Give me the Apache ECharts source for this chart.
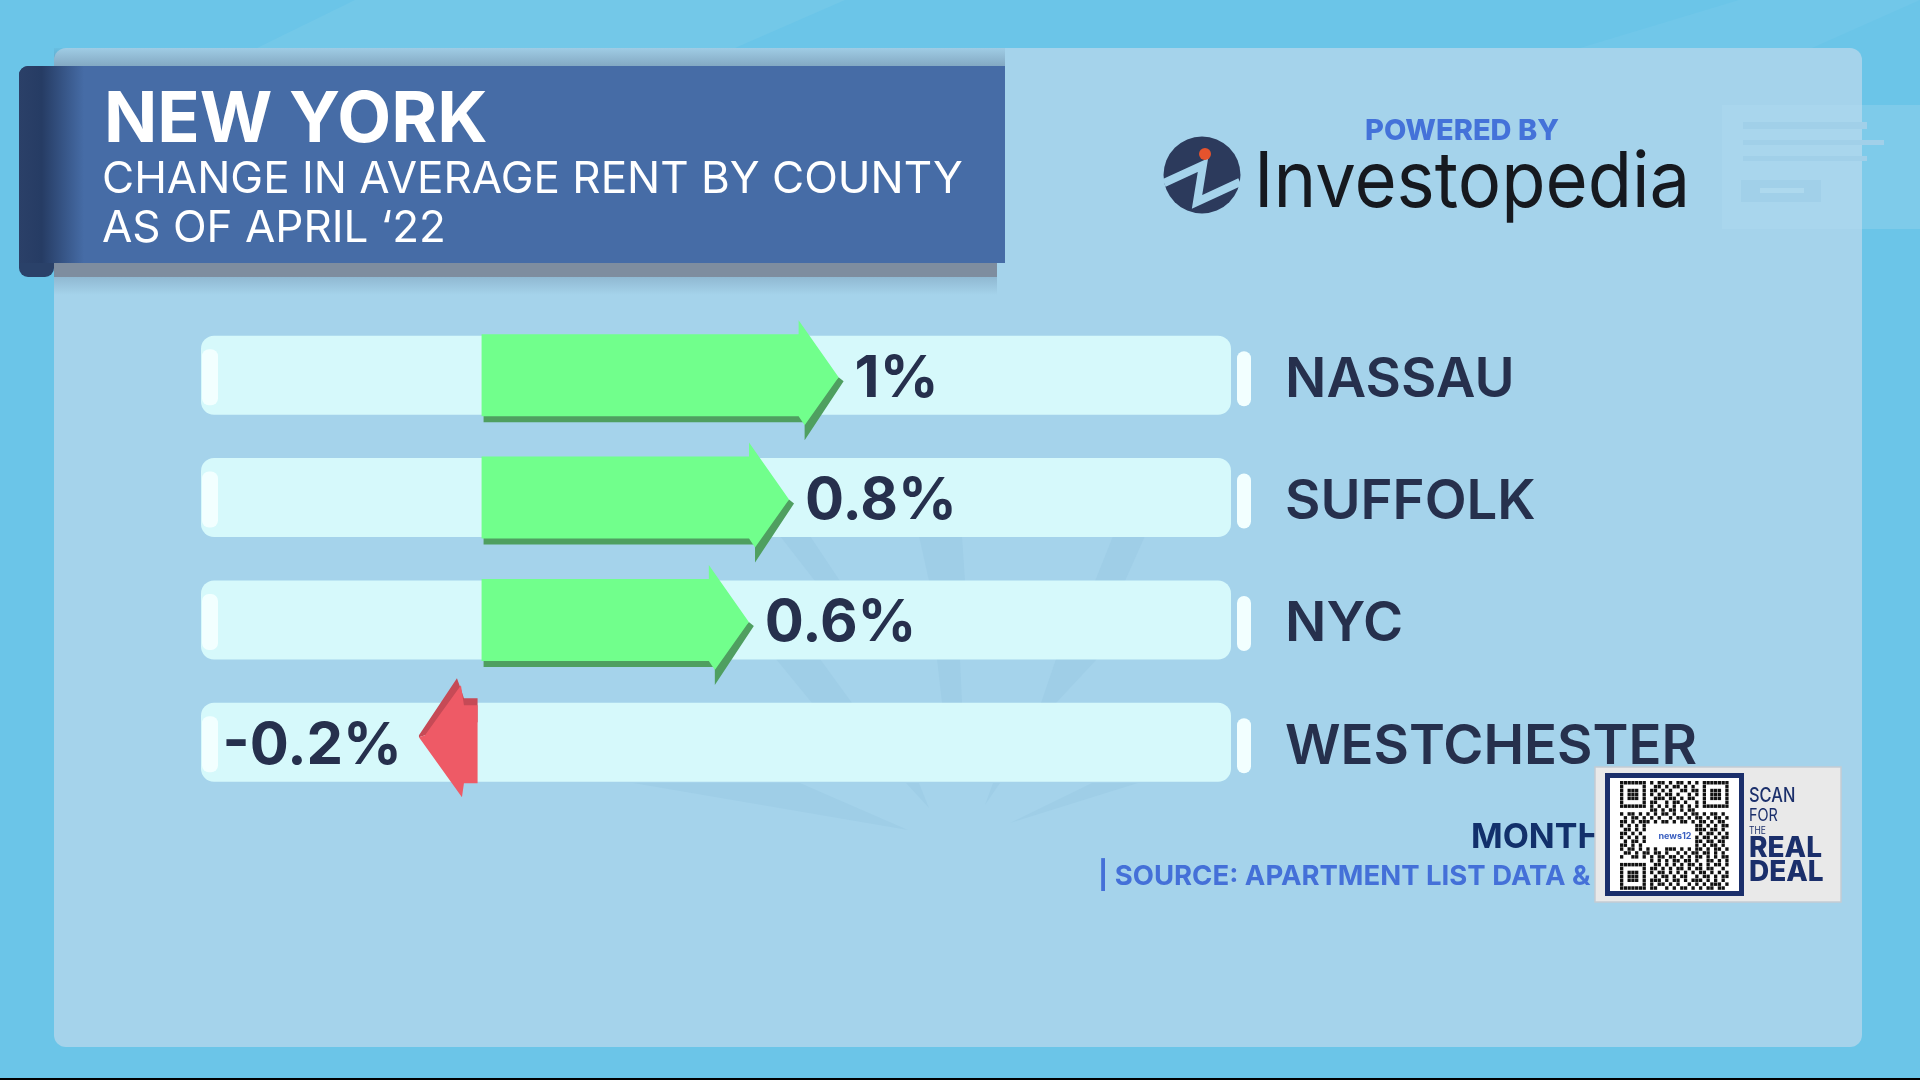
<!DOCTYPE html>
<html>
<head>
<meta charset="utf-8">
<style>html,body{margin:0;padding:0;background:#6bc5e8}#c{width:1920px;height:1080px}</style>
<script src="https://cdn.jsdelivr.net/npm/echarts@6/dist/echarts.min.js"></script>
</head>
<body>
<div id="c"></div>
<script>
// Chart content
const counties = ['NASSAU', 'SUFFOLK', 'NYC', 'WESTCHESTER'];
const changePct = [1, 0.8, 0.6, -0.2];
// The reference's arrows are not proportional to their labels. This is how far
// each arrow tip reaches on the axis as drawn; the labels use changePct.
const arrowExtent = [1, 0.863, 0.752, -0.173];
const titleMain = 'NEW YORK';
const titleLine1 = 'CHANGE IN AVERAGE RENT BY COUNTY';
const titleLine2 = 'AS OF APRIL ‘22';
const poweredBy = 'POWERED BY';
const brand = 'Investopedia';
const footerTop = 'MONTH';
const footerSource = '| SOURCE: APARTMENT LIST DATA &';

const FONT = 'Inter';
const INK = '#26304d';
const GREEN = '#71ff8c', GREEN_D = '#4f9f60';
const RED = '#ee5a66', RED_D = '#c64a56';
const TRACK = '#d6f9fb', PILL = '#f2ffff';
const PANEL = '#a5d3eb';

// Decorative QR pattern, approximating the look of the code in the picture
const qrPattern = [
'11111110101101011010101111111',
'10000010011010110101001000001',
'10111010110101001101101011101',
'10111010101011010010101011101',
'10111010011101101011001011101',
'10000010110010110100101000001',
'11111110101010101010101111111',
'00000000110101101011000000000',
'10110101010110100101101011010',
'01011010101001011010110101101',
'11010111010110101101011010110',
'10101010000000000000110101011',
'01101010000000000000111011010',
'11010100000000000000010110101',
'10101010000000000000101101011',
'01011010000000000000110110110',
'11010100000000000000101011010',
'10110101010011101010110101101',
'01101011011010010101101101010',
'10011010101101101010110101011',
'00000000101010110110100110101',
'11111110011010101011010101101',
'10000010110101011010110110010',
'10111010101101010101011010101',
'10111010010110101100101101011',
'10111010111010110101110101010',
'10000010101101010010101011101',
'11111110110010101101010110110'
];

function rect(x, y, w, h, fill, z, r) {
  return {type: 'rect', z: z, silent: true, shape: {x, y, width: w, height: h, r: r || 0}, style: {fill}};
}
function poly(points, fill, z) {
  return {type: 'polygon', z: z, silent: true, shape: {points}, style: {fill}};
}
function text(x, y, t, size, weight, fill, z, extra, scaleX) {
  const el = {type: 'text', z: z, silent: true, x, y, style: Object.assign({
    text: t, font: weight + ' ' + size + 'px ' + FONT, fill, textAlign: 'left', textVerticalAlign: 'middle'
  }, extra || {})};
  if (scaleX) el.scaleX = scaleX;
  return el;
}
function vgrad(a, b) {
  return {type: 'linear', x: 0, y: 0, x2: 0, y2: 1, colorStops: [{offset: 0, color: a}, {offset: 1, color: b}]};
}

const RAY = '#9fcee7';
const FAINT = '#a1d0e9';
const decor = [
  rect(0, 0, 1920, 1080, '#6bc5e8', -30),
  poly([[257, 48], [355, 0], [845, 0], [735, 48]], '#73c8e8', -29),
  poly([[1580, 48], [1739, 0], [1920, 0], [1812, 48]], '#71c7e9', -29),
  rect(1862, 105, 58, 124, '#7ecbea', -29),
  rect(0, 1078, 1920, 2, '#000000', -29),
  rect(54, 48, 1808, 999, PANEL, -28, 12),
  rect(1722, 105, 140, 124, '#a9d6ed', -27),
  rect(1743, 122, 124, 7, FAINT, -26),
  rect(1743, 140, 141, 5, FAINT, -26),
  rect(1743, 156, 124, 5, FAINT, -26),
  rect(1741, 180, 80, 22, FAINT, -26),
  rect(1760, 188, 44, 5, '#aed9ee', -25),
  // faint burst behind the rows
  poly([[633, 783], [800, 783], [908, 830]], RAY, -26),
  poly([[1092, 783], [1138, 783], [1010, 823]], RAY, -26),
  poly([[906, 783], [919, 783], [929, 808]], RAY, -26),
  poly([[985, 805], [1000, 783], [993, 783]], RAY, -26),
  poly([[776, 659], [820, 659], [852, 703], [812, 703]], RAY, -26),
  poly([[937, 659], [960, 659], [962, 703], [942, 703]], RAY, -26),
  poly([[1056, 659], [1097, 659], [1056, 703], [1041, 703]], RAY, -26),
  poly([[919, 536], [962, 536], [965, 581], [929, 581]], RAY, -26),
  poly([[1113, 536], [1145, 536], [1125, 581], [1095, 581]], RAY, -26),
  poly([[780, 536], [810, 536], [840, 581], [815, 581]], RAY, -26),
  // title plate
  {type: 'rect', z: 1, silent: true, shape: {x: 54, y: 48, width: 951, height: 18}, style: {fill: vgrad('rgba(60,80,110,0.05)', 'rgba(60,80,110,0.32)')}},
  {type: 'rect', z: 1, silent: true, shape: {x: 54, y: 277, width: 943, height: 18}, style: {fill: vgrad('rgba(60,80,110,0.2)', 'rgba(60,80,110,0)')}},
  rect(54, 263, 943, 14, '#7e8d9f', 2),
  rect(19, 66, 35, 211, '#2a4169', 2, 9),
  {type: 'rect', z: 3, silent: true, shape: {x: 44, y: 66, width: 961, height: 197}, style: {fill: '#466ca6'}},
  {type: 'rect', z: 3, silent: true, shape: {x: 19, y: 66, width: 65, height: 197, r: [9, 0, 0, 0]}, style: {fill: {type: 'linear', x: 0, y: 0, x2: 1, y2: 0, colorStops: [{offset: 0, color: '#2b4068'}, {offset: 0.35, color: '#263c64'}, {offset: 1, color: '#466ca6'}]}}},
  // brand block
  text(1365, 131, poweredBy, 29, 800, '#4472d9', 2),
  {type: 'circle', z: 2, silent: true, shape: {cx: 1202, cy: 175, r: 38.5}, style: {fill: '#2c3a5c'}},
  {type: 'polyline', z: 3, silent: true, shape: {points: [[1164, 183], [1203, 165], [1197, 202], [1240, 182]]}, style: {stroke: PANEL, lineWidth: 8, fill: null}},
  {type: 'circle', z: 4, silent: true, shape: {cx: 1205, cy: 154, r: 6}, style: {fill: '#e5532d'}},
  text(1254, 184, brand, 77, 400, '#16191f', 2, null, 0.94),
  // footer
  text(1471, 838, footerTop, 34, 700, '#12306b', 2),
  text(1098, 877, footerSource, 27.5, 700, '#4470d8', 2),
  // scan card
  {type: 'rect', z: 5, silent: true, shape: {x: 1595, y: 767, width: 246, height: 135}, style: {fill: '#e9e9e9', stroke: '#c3ccd4', lineWidth: 1.5}},
  rect(1605, 773, 139, 123, '#1b2f6b', 6),
  rect(1610, 778, 129, 113, '#ffffff', 7),
  text(1749, 796, 'SCAN', 20, 500, '#1b2f6b', 8, null, 0.82),
  text(1749, 816, 'FOR', 17, 400, '#1b2f6b', 8, null, 0.85),
  text(1749, 831, 'THE', 10, 400, '#1b2f6b', 8, null, 0.85),
  text(1749, 849, 'REAL', 28, 800, '#1b2f6b', 8),
  text(1749, 873, 'DEAL', 28, 800, '#1b2f6b', 8),
  text(1675, 836, 'news12', 9, 700, '#3a5fc0', 9, {textAlign: 'center'})
];
qrPattern.forEach((row, j) => {
  [...row].forEach((bit, i) => {
    if (bit === '1') decor.push(rect(1620 + i * 3.76, 781 + j * 3.9, 3.3, 3.5, '#111111', 8));
  });
});

function renderTrack(params, api) {
  const cs = params.coordSys;
  const cy = api.coord([0, api.value(0)])[1];
  const ch = 79;
  return {type: 'group', children: [
    {type: 'rect', shape: {x: cs.x, y: cy - ch / 2, width: cs.width, height: ch, r: 13}, style: {fill: TRACK}},
    {type: 'rect', shape: {x: cs.x + 1, y: cy - 26, width: 16, height: 56, r: 7}, style: {fill: PILL}},
    {type: 'rect', shape: {x: cs.x + cs.width + 6, y: cy - 24, width: 14, height: 55, r: 7}, style: {fill: PILL}}
  ]};
}

function renderArrow(params, api) {
  const tip = api.coord([api.value(0), api.value(1)]);
  const zero = api.coord([0, api.value(1)])[0];
  const cy = tip[1];
  const label = changePct[params.dataIndex] + '%';
  const tx = tip[0];
  const labelFont = '700 58px ' + FONT;
  if (api.value(0) >= 0) {
    const neck = tx - 45;
    return {type: 'group', children: [
      {type: 'polygon', shape: {points: [[zero + 2, cy + 35], [neck, cy + 35], [neck, cy + 40], [tx - 5, cy + 2], [tx, cy + 6], [tx - 39, cy + 65], [tx - 39, cy + 47], [neck, cy + 47], [zero + 2, cy + 47]]}, style: {fill: GREEN_D}},
      {type: 'polygon', shape: {points: [[zero, cy - 41], [neck, cy - 41], [neck, cy - 55], [tx - 5, cy + 2], [tx - 39, cy + 50], [neck, cy + 41], [zero, cy + 41]]}, style: {fill: GREEN}},
      {type: 'text', x: tx + 11, y: cy + 4, style: {text: label, font: labelFont, fill: INK, textAlign: 'left', textVerticalAlign: 'middle'}}
    ]};
  }
  const base = zero - 4;
  return {type: 'group', children: [
    {type: 'polygon', shape: {points: [[tx, cy - 7], [tx + 38, cy - 64], [tx + 42, cy - 53], [tx + 45, cy - 44], [base, cy - 44], [base, cy - 20], [tx + 6, cy - 7], [tx, cy - 5]]}, style: {fill: RED_D}},
    {type: 'polygon', shape: {points: [[tx + 6, cy - 7], [tx + 42, cy - 57], [tx + 45, cy - 37], [base, cy - 37], [base, cy + 41], [tx + 45, cy + 41], [tx + 43, cy + 55], [tx, cy - 5]]}, style: {fill: RED}},
    {type: 'text', x: tx - 17, y: cy + 4, style: {text: label, font: labelFont, fill: INK, textAlign: 'right', textVerticalAlign: 'middle'}}
  ]};
}

const chart = echarts.init(document.getElementById('c'), null, {renderer: 'canvas', width: 1920, height: 1080});
chart.setOption({
  animation: false,
  backgroundColor: '#6bc5e8',
  title: [
    {text: titleMain, left: 99, top: 81, z: 10, textStyle: {fontFamily: FONT, fontSize: 70, fontWeight: 700, color: '#fff'}},
    {text: titleLine1, left: 97, top: 153, z: 10, textStyle: {fontFamily: FONT, fontSize: 44, fontWeight: 400, color: '#fff'}},
    {text: titleLine2, left: 97, top: 202, z: 10, textStyle: {fontFamily: FONT, fontSize: 44, fontWeight: 400, color: '#fff'}}
  ],
  grid: {left: 201, width: 1030, top: 314, height: 489.5},
  xAxis: {type: 'value', min: -0.775, max: 2.07, show: false},
  yAxis: {
    type: 'category', data: counties, inverse: true, position: 'right',
    axisLine: {show: false}, axisTick: {show: false}, splitLine: {show: false},
    axisLabel: {margin: 54, verticalAlign: 'top', lineHeight: 10, fontFamily: FONT, fontSize: 54.5, fontWeight: 600, color: INK}
  },
  graphic: decor,
  series: [
    {type: 'custom', z: 2, silent: true, clip: false, renderItem: renderTrack,
      data: counties.map((c, i) => [i]), encode: {y: 0}},
    {type: 'custom', z: 3, silent: true, clip: false, renderItem: renderArrow,
      data: arrowExtent.map((v, i) => [v, i]), encode: {x: 0, y: 1}}
  ]
});
</script>
</body>
</html>
